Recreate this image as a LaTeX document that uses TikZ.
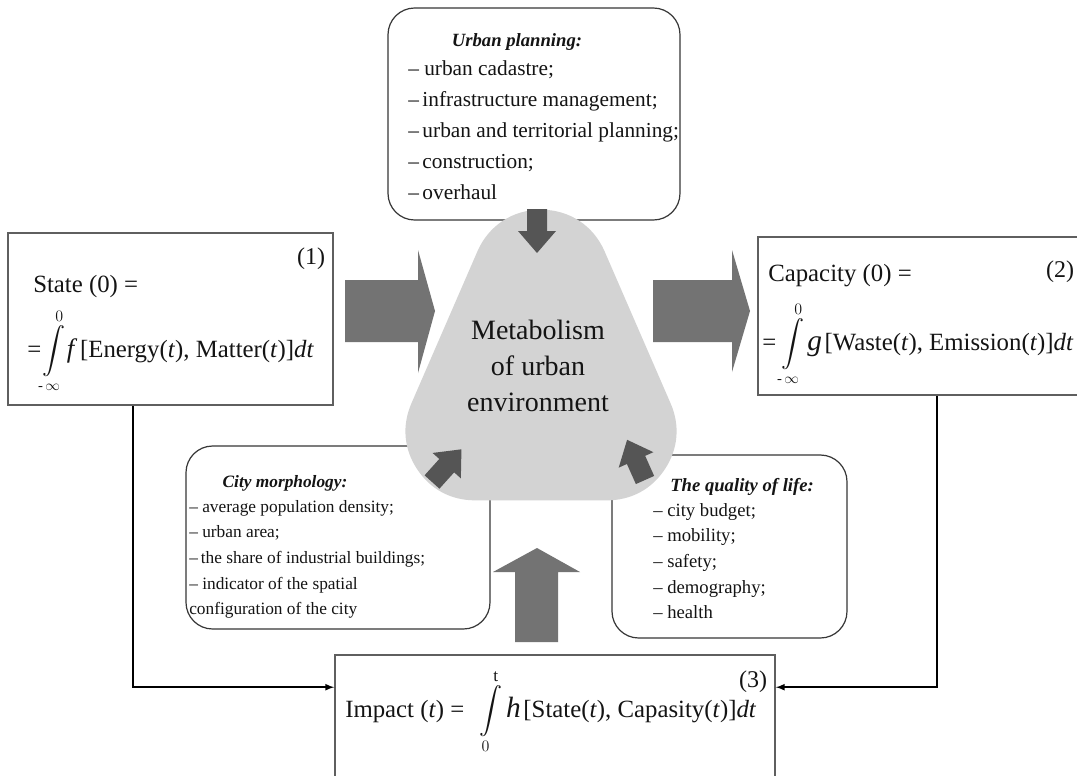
\documentclass[tikz,border=0pt]{standalone}
\usepackage{fontspec}
\usepackage{exscale}
\setmainfont{Liberation Serif}
\usetikzlibrary{fit,calc}
\definecolor{arrowgray}{RGB}{115,115,115}
\definecolor{trigray}{RGB}{211,211,211}
\definecolor{smallgray}{RGB}{85,85,85}
\definecolor{boxline}{RGB}{95,95,95}
\definecolor{ink}{RGB}{20,20,20}
\newcommand{\lowlim}[1]{\makebox[0pt]{\fontsize{11}{11}\selectfont #1}}
\tikzset{
  eqbox/.style={draw=boxline, line width=1.2pt, inner sep=0pt, fill=white},
  listbox/.style={draw=ink!85, line width=0.9pt, rounded corners=20pt, inner sep=0pt, fill=white},
  formula/.style={anchor=base west, inner sep=0pt, text=ink, font=\fontsize{18.6}{22}\selectfont},
  eqnum/.style={inner sep=0pt, text=ink, font=\fontsize{18}{22}\selectfont},
  listtitle/.style={inner sep=0pt, text=ink, font=\bfseries\itshape},
  listtext/.style={anchor=north west, inner sep=0pt, align=left, text=ink},
  conn/.style={line width=1.3pt, -latex},
  bigarrow/.style={fill=arrowgray},
  smallarrow/.style={fill=smallgray}
}
\begin{document}
\begin{tikzpicture}[x=0.75pt, y=-0.75pt]
  \useasboundingbox (0,0) rectangle (1077,775);
  \clip (0,0) rectangle (1077,775);
  \fill[white] (0,0) rectangle (1077,775);

  \node[eqbox, fit={(8,233) (333,405)}] (state) {};
  \node[eqbox, fit={(758,237) (1100,395)}] (capacity) {};
  \node[eqbox, fit={(335,655) (775,800)}] (impact) {};
  \draw[conn] ([xshift=-28pt]state.south) |- ([yshift=-24.75pt]impact.north west);
  \draw[conn] ([xshift=6pt]capacity.south) |- ([yshift=-24.75pt]impact.north east);

  \node[listbox, fit={(388,8) (680,220)}] (urban) {};
  \node[listbox, fit={(186,446) (490,629)}] (morph) {};
  \node[listbox, fit={(612,455) (847,638)}] (quality) {};

  % rounded triangle: fill plus a wide stroke with round joins
  \filldraw[trigray, line width=104pt, line join=round] (541,279) -- (607,431) -- (475,431) -- cycle;

  \fill[bigarrow] (345,280) -- (418,280) -- (418,250) -- (435,311) -- (418,373) -- (418,342) -- (345,342) -- cycle;
  \fill[bigarrow] (653,280) -- (732,280) -- (732,250) -- (750,311) -- (732,372) -- (732,342) -- (653,342) -- cycle;
  \fill[bigarrow] (515,642) -- (515,572) -- (493,572) -- (537,548) -- (580,572) -- (558,572) -- (558,642) -- cycle;
  \foreach \px/\py/\ang in {537/209/-90, 432/482/48, 645/480/114}
    \fill[smallarrow, shift={(\px,\py)}, rotate=\ang] (0,-10) -- (22,-10) -- (22,-19) -- (44,0) -- (22,19) -- (22,10) -- (0,10) -- cycle;

  \node[align=center, text=ink, font=\fontsize{21}{27}\selectfont] (metab) at (538,366) {Metabolism\\of urban\\environment};

  \node[formula] (statehead) at (33,292) {State (0) =};
  \node[formula] (stateint) at (27,357) {=\hspace{1pt}$\displaystyle\int\limits_{\lowlim{-\,$\infty$}}^{0}$\hspace{1pt}{\fontsize{20}{20}\selectfont\textit{f}}\hspace{2pt}[Energy(\textit{t}), Matter(\textit{t})]\textit{dt}};
  \node[eqnum] (num1) at (311,259) {(1)};

  \node[formula] (caphead) at (768,281) {Capacity (0) =};
  \node[formula] (capint) at (762,350) {=\hspace{4pt}$\displaystyle\int\limits_{\lowlim{-\,$\infty$}}^{0}$\hspace{2pt}{\fontsize{22}{22}\selectfont\textit{g}}\hspace{2pt}[Waste(\textit{t}), Emission(\textit{t})]\textit{dt}};
  \node[eqnum] (num2) at (1060,272) {(2)};

  \node[formula] (impint) at (345,717) {Impact (\textit{t}) =\hspace{11pt}$\displaystyle\int\limits_{0}^{\mathrm{t}}$\hspace{3pt}{\fontsize{22}{22}\selectfont\textit{h}}\hspace{2pt}[State(\textit{t}), Capasity(\textit{t})]\textit{dt}};
  \node[eqnum] (num3) at (753,682) {(3)};

  \node[listtitle, font=\fontsize{14}{16}\selectfont\bfseries\itshape] (urbantitle) at (517,42) {Urban planning:};
  \node[listtext, font=\fontsize{16}{23.3}\selectfont] (urbanlist) at (408,60) {-- urban cadastre;\\--\,infrastructure management;\\--\,urban and territorial planning;\\--\,construction;\\--\,overhaul};

  \node[listtitle, font=\fontsize{13}{15}\selectfont\bfseries\itshape] (morphtitle) at (285,483) {City morphology:};
  \node[listtext, font=\fontsize{13}{19.2}\selectfont] (morphlist) at (189,500) {-- average population density;\\-- urban area;\\--\,the share of industrial buildings;\\-- indicator of the spatial\\configuration of the city};

  \node[listtitle, font=\fontsize{14}{16}\selectfont\bfseries\itshape, anchor=west] (qualtitle) at (670,487) {The quality of life:};
  \node[listtext, font=\fontsize{14}{19.2}\selectfont] (quallist) at (653,503) {-- city budget;\\-- mobility;\\-- safety;\\-- demography;\\-- health};
\end{tikzpicture}
\end{document}
